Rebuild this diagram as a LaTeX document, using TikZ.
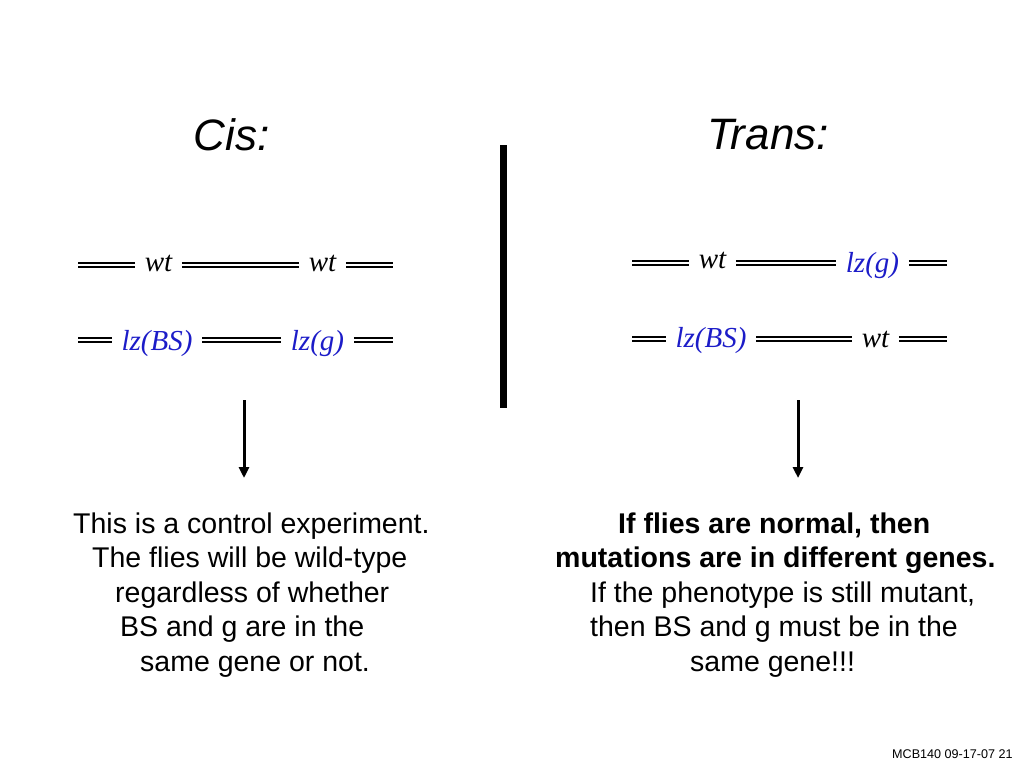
\documentclass[tikz,border=0pt]{standalone}
\usepackage{fontspec}
\setmainfont{Liberation Sans}
\newfontfamily\serifit{Liberation Serif}
\usetikzlibrary{arrows.meta}
\definecolor{geneblue}{RGB}{28,28,200}
\begin{document}
\begin{tikzpicture}[x=1pt,y=-1pt,
  dna/.style={draw=black, double=white, line width=2pt, double distance=2.2pt},
  lab/.style={font=\serifit\itshape\fontsize{29}{29}\selectfont, inner xsep=9.5pt, inner ysep=0pt, anchor=base},
  mut/.style={lab, text=geneblue},
  ttl/.style={font=\itshape\fontsize{44}{44}\selectfont, inner sep=0pt, anchor=base},
  body/.style={font=\fontsize{28.5}{34}\selectfont, inner sep=0pt, anchor=base west},
  bbody/.style={body, font=\bfseries\fontsize{28.5}{34}\selectfont},
  arr/.style={line width=3pt, -{Triangle[width=10pt,length=11pt]}},
  bar/.style={line width=7pt}]
\useasboundingbox (0,0) rectangle (1024,768);

% titles
\node[ttl] (cis) at (231.5,150) {Cis:};
\node[ttl] (trans) at (768,149) {Trans:};

% divider
\coordinate (B1) at (503.5,145);
\coordinate (B2) at (503.5,408);
\draw[bar] (B1) -- (B2);

% Cis row 1
\coordinate (L1s) at (78,265);
\coordinate (L1e) at (393,265);
\node[lab] (L1a) at (158.5,271) {wt};
\node[lab] (L1b) at (322.5,271) {wt};
\draw[dna] (L1s) -- (L1s -| L1a.west);
\draw[dna] (L1a.east |- L1s) -- (L1s -| L1b.west);
\draw[dna] (L1b.east |- L1s) -- (L1e);

% Cis row 2
\coordinate (L2s) at (78,340);
\coordinate (L2e) at (393,340);
\node[mut] (L2a) at (157,350) {lz(BS)};
\node[mut] (L2b) at (317.5,350) {lz(g)};
\draw[dna] (L2s) -- (L2s -| L2a.west);
\draw[dna] (L2a.east |- L2s) -- (L2s -| L2b.west);
\draw[dna] (L2b.east |- L2s) -- (L2e);

% Trans row 1
\coordinate (R1s) at (632,263);
\coordinate (R1e) at (947,263);
\node[lab] (R1a) at (712.5,268) {wt};
\node[mut] (R1b) at (872.5,272) {lz(g)};
\draw[dna] (R1s) -- (R1s -| R1a.west);
\draw[dna] (R1a.east |- R1s) -- (R1s -| R1b.west);
\draw[dna] (R1b.east |- R1s) -- (R1e);

% Trans row 2
\coordinate (R2s) at (632,339);
\coordinate (R2e) at (947,339);
\node[mut] (R2a) at (711,347) {lz(BS)};
\node[lab] (R2b) at (875.5,347) {wt};
\draw[dna] (R2s) -- (R2s -| R2a.west);
\draw[dna] (R2a.east |- R2s) -- (R2s -| R2b.west);
\draw[dna] (R2b.east |- R2s) -- (R2e);

% arrows
\coordinate (A1s) at (244,400);
\coordinate (A1e) at (244,478);
\draw[arr] (A1s) -- (A1e);
\coordinate (A2s) at (798,400);
\coordinate (A2e) at (798,478);
\draw[arr] (A2s) -- (A2e);

% left text
\node[body] (t1) at (73,533) {This is a control experiment.};
\node[body] (t2) at (92,567.5) {The flies will be wild-type};
\node[body] (t3) at (115,602) {regardless of whether};
\node[body] (t4) at (120,636.5) {BS and g are in the};
\node[body] (t5) at (140,671) {same gene or not.};

% right text
\node[bbody] (u1) at (618,533) {If flies are normal, then};
\node[bbody] (u2) at (555,567.5) {mutations are in different genes.};
\node[body] (u3) at (590,602) {If the phenotype is still mutant,};
\node[body] (u4) at (590,636.5) {then BS and g must be in the};
\node[body] (u5) at (690,671) {same gene!!!};

% footer
\node[anchor=base west, inner sep=0pt, font=\fontsize{12.6}{12.6}\selectfont] (foot) at (892,758) {MCB140 09-17-07 21};
\end{tikzpicture}
\end{document}
